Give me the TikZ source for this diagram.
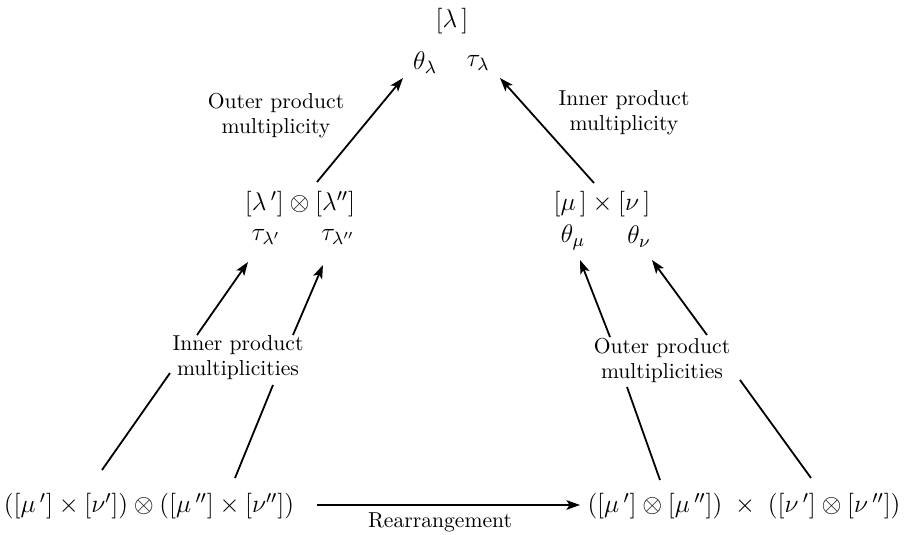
\RequirePackage{fix-cm}
\documentclass[tikz,border=0pt]{standalone}
\usetikzlibrary{arrows.meta}
\begin{document}
\begin{tikzpicture}[x=0.5pt,y=-0.5pt,
  mth/.style={inner sep=0pt,font=\fontsize{12.8}{15}\selectfont},
  sym/.style={inner sep=0pt,font=\fontsize{12.8}{15}\selectfont},
  lbl/.style={inner sep=0pt,align=center,font=\fontsize{10.8}{12.5}\selectfont},
  conn/.style={line width=0.9pt},
  arr/.style={conn,-{Stealth[length=6.8pt,width=4.8pt,inset=1.6pt]}}]
\useasboundingbox (0,0) rectangle (906,535);

% top level
\node[mth] (lam) at (452,21) {$[\lambda\,]$};
\node[sym] (thl) at (425,63) {$\theta_\lambda$};
\node[sym] (tl)  at (478,63) {$\tau_\lambda$};

% middle level
\node[mth] (lp)   at (300,204) {$[\lambda\,']\otimes[\lambda'']$};
\node[sym] (tlp)  at (266,237) {$\tau_{\lambda'}$};
\node[sym] (tlpp) at (338,237) {$\tau_{\lambda''}$};
\node[mth] (mn)   at (602,204) {$[\mu\,]\times[\nu\,]$};
\node[sym] (thm)  at (573,237) {$\theta_\mu$};
\node[sym] (thn)  at (639,237) {$\theta_\nu$};

% bottom level
\node[mth] (bl) at (149,506) {$([\mu\,']\times[\nu']) \otimes ([\mu\,'']\times[\nu''])$};
\node[mth] (br) at (744,506) {$([\mu\,']\otimes[\mu\,''])\;\times\;([\nu\,']\otimes[\nu\,''])$};

% labels
\node[lbl] (op1) at (276,116) {Outer product\\multiplicity};
\node[lbl] (ip1) at (624,113) {Inner product\\multiplicity};
\node[lbl] (ip2) at (238,358) {Inner product\\multiplicities};
\node[lbl] (op2) at (662,360) {Outer product\\multiplicities};
\node[lbl] (rr)  at (440,522) {Rearrangement};

% connector end points
\coordinate (a1s) at (317,182); \coordinate (a1e) at (403,78);
\coordinate (a2s) at (594,183); \coordinate (a2e) at (500,78);
\coordinate (b1s) at (197,335); \coordinate (b1e) at (248,262);
\coordinate (b2s) at (293,335); \coordinate (b2e) at (323,265);
\coordinate (b3s) at (610,337); \coordinate (b3e) at (580,260);
\coordinate (b4s) at (707,335); \coordinate (b4e) at (652,260);
\coordinate (c1s) at (102,470); \coordinate (c1e) at (170,373);
\coordinate (c2s) at (235,478); \coordinate (c2e) at (273,385);
\coordinate (c3s) at (660,480); \coordinate (c3e) at (627,387);
\coordinate (c4s) at (811,478); \coordinate (c4e) at (740,380);
\coordinate (rs) at (317,505); \coordinate (re) at (580,505);

% arrows
\draw[arr] (a1s) -- (a1e);
\draw[arr] (a2s) -- (a2e);
\draw[arr] (b1s) -- (b1e);
\draw[arr] (b2s) -- (b2e);
\draw[arr] (b3s) -- (b3e);
\draw[arr] (b4s) -- (b4e);
\draw[conn] (c1s) -- (c1e);
\draw[conn] (c2s) -- (c2e);
\draw[conn] (c3s) -- (c3e);
\draw[conn] (c4s) -- (c4e);
\draw[arr] (rs) -- (re);
\end{tikzpicture}
\end{document}
